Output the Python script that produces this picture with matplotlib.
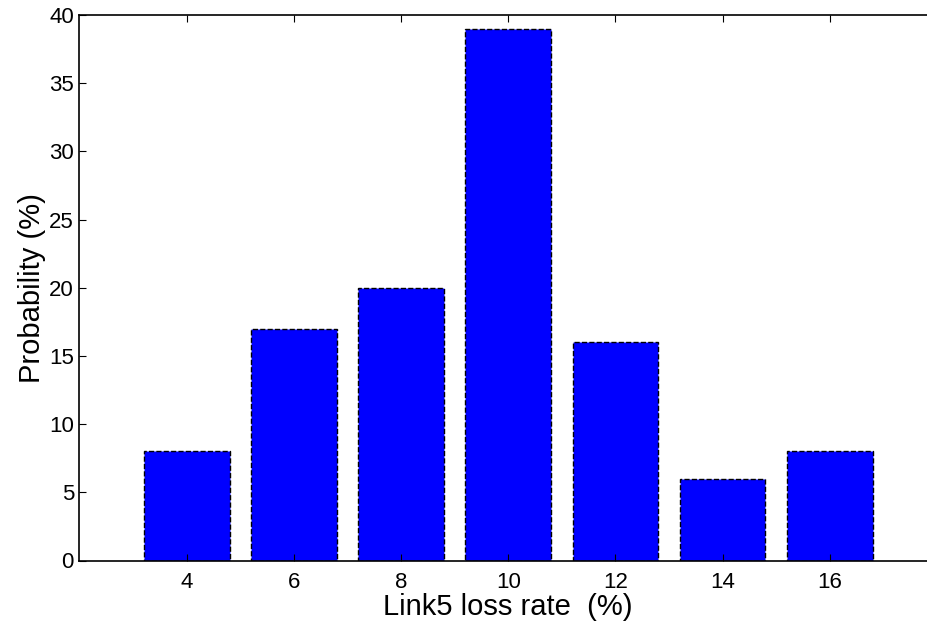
import matplotlib
matplotlib.use("Agg")
import matplotlib.pyplot as plt

loss_rate = [4, 6, 8, 10, 12, 14, 16]
probability = [8, 17, 20, 39, 16, 6, 8]
y_ticks = [0, 5, 10, 15, 20, 25, 30, 35, 40]

plt.rcParams['font.family'] = ['Liberation Sans', 'DejaVu Sans']

fig = plt.figure(figsize=(9.28, 6.23), dpi=100)
# right edge of the axes runs past the figure, as in the reference
ax = fig.add_axes([79.5 / 928, 62.5 / 623, (937 - 79.5) / 928, (608 - 62.5) / 623])

ax.bar(loss_rate, probability, width=1.6, color='#0000ff',
       edgecolor='black', linestyle='--', linewidth=1.0)

ax.set_xlim(2, 18)
ax.set_ylim(0, 40)
ax.set_xticks(loss_rate)
ax.set_yticks(y_ticks)
ax.tick_params(direction='in', top=True, right=False, length=5, labelsize=16)
ax.tick_params(axis='x', pad=8)
ax.tick_params(axis='y', pad=4)
ax.spines['right'].set_visible(False)
for s in ax.spines.values():
    s.set_linewidth(1.2)

ax.set_xlabel('Link5 loss rate  (%)', fontsize=21, labelpad=0)
ax.set_ylabel('Probability (%)', fontsize=21, labelpad=2)

fig.savefig('out.png', dpi=100)
